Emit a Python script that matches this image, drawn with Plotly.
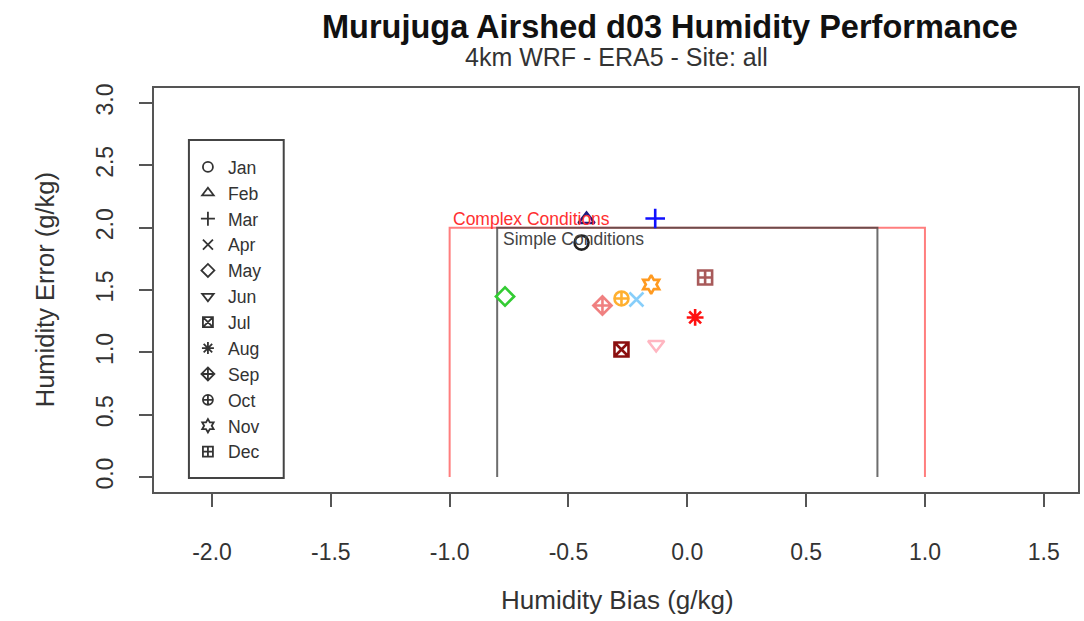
import plotly.graph_objects as go

# ---- data ----
months = ["Jan", "Feb", "Mar", "Apr", "May", "Jun", "Jul", "Aug", "Sep", "Oct", "Nov", "Dec"]
bias = [-0.445, -0.424, -0.135, -0.214, -0.767, -0.131, -0.277, 0.033, -0.357, -0.277, -0.152, 0.075]
error = [1.88, 2.065, 2.073, 1.424, 1.448, 1.063, 1.023, 1.28, 1.376, 1.432, 1.544, 1.60]
symbols = ["circle-open", "triangle-up-open", "cross-thin-open", "x-thin-open", "diamond-open",
           "triangle-down-open", "square-x-open", "asterisk-open", "diamond-cross-open",
           "circle-cross-open", "hexagram-open", "square-cross-open"]
colors = ["#222222", "#1f1a80", "#1010ff", "#87cefa", "#33cc33", "#ffb6c1",
          "#8b1010", "#ff1010", "#f08080", "#ffb030", "#ff9a20", "#a85a5a"]

complex_x = [-1.0, -1.0, 1.0, 1.0]
complex_y = [0.0, 2.0, 2.0, 0.0]
simple_x = [-0.8, -0.8, 0.8, 0.8]
simple_y = [0.0, 2.0, 2.0, 0.0]

x_ticks = [-2.0, -1.5, -1.0, -0.5, 0.0, 0.5, 1.0, 1.5]
x_ticktext = ["-2.0", "-1.5", "-1.0", "-0.5", "0.0", "0.5", "1.0", "1.5"]
y_ticks = [0.0, 0.5, 1.0, 1.5, 2.0, 2.5, 3.0]
y_ticktext = ["0.0", "0.5", "1.0", "1.5", "2.0", "2.5", "3.0"]

FONT = "Liberation Sans, Arial, sans-serif"
W, H = 1084, 621
L, R, T, B = 154, 4, 88, 129
PW, PH = W - L - R, H - T - B


def px(x):
    return (x - L) / PW


def py(y):
    return (H - B - y) / PH


fig = go.Figure()

# threshold boxes
fig.add_trace(go.Scatter(x=complex_x, y=complex_y, mode="lines",
                         line=dict(color="rgba(255,40,40,0.6)", width=2),
                         showlegend=False, hoverinfo="skip"))
fig.add_trace(go.Scatter(x=simple_x, y=simple_y, mode="lines",
                         line=dict(color="rgba(60,60,60,0.75)", width=2),
                         showlegend=False, hoverinfo="skip"))

# data points
for m, xb, ye, s, c in zip(months, bias, error, symbols, colors):
    fig.add_trace(go.Scatter(x=[xb], y=[ye], mode="markers", name=m,
                             marker=dict(symbol=s, size=14, color=c,
                                         line=dict(color=c, width=2.6)),
                             showlegend=False))

# legend entries (black symbols)
for m, s in zip(months, symbols):
    fig.add_trace(go.Scatter(x=[None], y=[None], mode="markers", name=m,
                             marker=dict(symbol=s, size=10, color="#333333",
                                         line=dict(color="#333333", width=1.8)),
                             showlegend=True))

annotations = [
    dict(text="<b>Murujuga Airshed d03 Humidity Performance</b>", xref="paper", yref="paper",
         x=px(671), y=py(27), xanchor="center", yanchor="middle", showarrow=False,
         font=dict(family=FONT, size=32.5, color="#111111")),
    dict(text="4km WRF - ERA5 - Site: all", xref="paper", yref="paper",
         x=px(617), y=py(57), xanchor="center", yanchor="middle", showarrow=False,
         font=dict(family=FONT, size=25, color="#333333")),
    dict(text="Humidity Bias (g/kg)", xref="paper", yref="paper",
         x=px(619), y=py(600), xanchor="center", yanchor="middle", showarrow=False,
         font=dict(family=FONT, size=26, color="#333333")),
    dict(text="Humidity Error (g/kg)", xref="paper", yref="paper", textangle=-90,
         x=px(45), y=py(290), xanchor="center", yanchor="middle", showarrow=False,
         font=dict(family=FONT, size=25.5, color="#333333")),
    dict(text="Complex Conditions", xref="x", yref="y", x=complex_x[1], y=complex_y[1],
         xanchor="left", yanchor="bottom", showarrow=False, xshift=1, yshift=-3,
         font=dict(family=FONT, size=17.5, color="#ff3030")),
    dict(text="Simple Conditions", xref="x", yref="y", x=simple_x[1], y=simple_y[1],
         xanchor="left", yanchor="top", showarrow=False, xshift=4, yshift=1,
         font=dict(family=FONT, size=17.5, color="#444444")),
]

fig.update_layout(
    width=W, height=H,
    margin=dict(l=L, r=R, t=T, b=B),
    paper_bgcolor="white", plot_bgcolor="white",
    font=dict(family=FONT, color="#333333"),
    annotations=annotations,
    showlegend=True,
    legend=dict(x=px(188), y=py(149), xanchor="left", yanchor="top",
                bgcolor="rgba(0,0,0,0)", borderwidth=0,
                font=dict(family=FONT, size=17.6, color="#333333"),
                itemclick=False, itemdoubleclick=False),
    shapes=[dict(type="rect", xref="paper", yref="paper",
                 x0=px(189), x1=px(284), y0=py(478), y1=py(140),
                 line=dict(color="#444444", width=2))],
    xaxis=dict(range=[-2.244, 1.644], tickvals=x_ticks, ticktext=x_ticktext,
               showgrid=False, zeroline=False, showline=True, mirror=True,
               linecolor="#555555", linewidth=2, ticks="outside", ticklen=13,
               tickwidth=2, tickcolor="#555555", ticklabelstandoff=25,
               tickfont=dict(family=FONT, size=23, color="#333333")),
    yaxis=dict(range=[-0.12, 3.12], tickvals=y_ticks, ticktext=y_ticktext,
               showgrid=False, zeroline=False, showline=True, mirror=True,
               linecolor="#555555", linewidth=2, ticks="outside", ticklen=13,
               tickwidth=2, tickcolor="#555555", tickangle=-90, ticklabelstandoff=17,
               tickfont=dict(family=FONT, size=23, color="#333333")),
)

fig.write_html("out.html")
